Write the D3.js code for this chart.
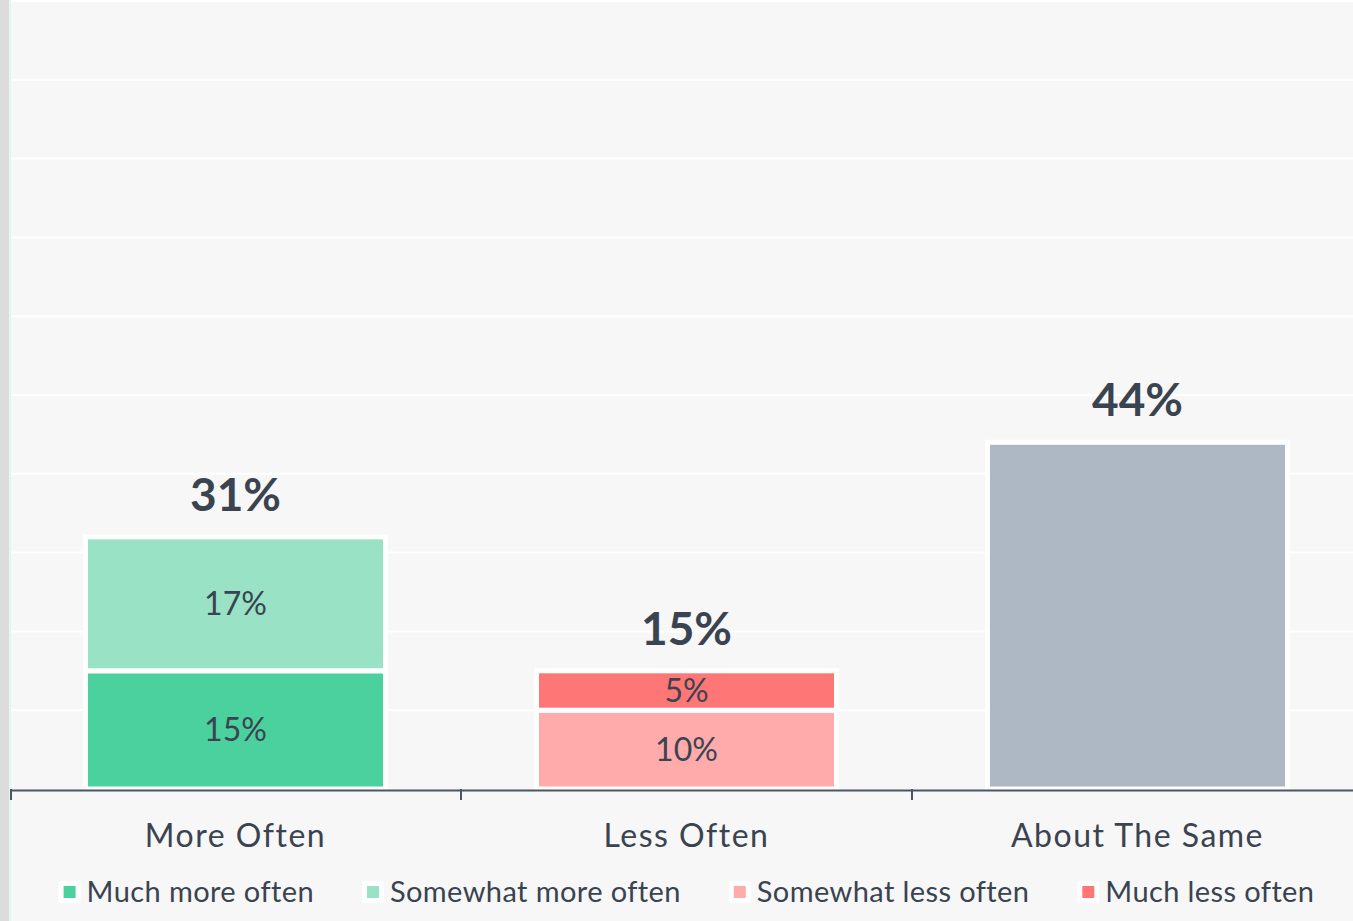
<!DOCTYPE html>
<html>
<head>
<meta charset="utf-8">
<script src="https://cdn.jsdelivr.net/npm/d3@7"></script>
<style>
  html, body { margin: 0; padding: 0; background: #f7f7f7; }
  svg { display: block; }
  text { font-family: Lato, "Open Sans", sans-serif; }
</style>
</head>
<body>
<svg id="chart" width="1353" height="921"></svg>
<script>
const categories = ["More Often", "Less Often", "About The Same"];
const legendNames = ["Much more often", "Somewhat more often", "Somewhat less often", "Much less often"];
const muchMore     = [15, 0, 0];
const somewhatMore = [17, 0, 0];
const somewhatLess = [0, 10, 0];
const muchLess     = [0, 5, 0];
const aboutSame    = [0, 0, 44];
const totals       = [31, 15, 44];
const yTicks = [0, 10, 20, 30, 40, 50, 60, 70, 80, 90, 100];

const colors = {
  "Much more often": "#4bd19e",
  "Somewhat more often": "#99e2c6",
  "Somewhat less often": "#ffabab",
  "Much less often": "#ff7676",
  "About the same": "#adb8c4"
};
const textColor = "#3a4350";

const svg = d3.select("#chart");
const W = 1353, H = 921;
const plotLeft = 10, plotRight = 1363, plotTop = 0, plotBottom = 789;

svg.append("rect").attr("width", W).attr("height", H).attr("fill", "#f7f7f7");
svg.append("rect").attr("x", 0).attr("y", 0).attr("width", 9).attr("height", H).attr("fill", "#dcdcdc");
svg.append("rect").attr("x", 9).attr("y", 0).attr("width", 2).attr("height", H).attr("fill", "#e4f7ee");

const x = d3.scaleBand().domain(categories).range([plotLeft, plotRight]).paddingInner(0).paddingOuter(0);
const y = d3.scaleLinear().domain([0, 100]).range([plotBottom, plotTop + 1]);

// gridlines
svg.append("g").selectAll("line").data(yTicks.slice(1)).join("line")
  .attr("x1", plotLeft + 1).attr("x2", W)
  .attr("y1", d => y(d)).attr("y2", d => y(d))
  .attr("stroke", "#ffffff").attr("stroke-width", 2);

// stacked data
const table = categories.map((c, i) => ({
  category: c,
  "Much more often": muchMore[i],
  "Somewhat more often": somewhatMore[i],
  "Somewhat less often": somewhatLess[i],
  "Much less often": muchLess[i],
  "About the same": aboutSame[i]
}));
const stackOrder = ["Much more often", "Somewhat more often", "Somewhat less often", "Much less often", "About the same"];
const stacked = d3.stack().keys(stackOrder)(table);

const barW = 300;
const bx = d => x(d) + (x.bandwidth() - barW) / 2;

const segs = [];
stacked.forEach(layer => {
  layer.forEach(d => {
    const v = d[1] - d[0];
    if (v > 0) segs.push({ key: layer.key, cat: d.data.category, y0: d[0], y1: d[1], v });
  });
});

svg.append("g").selectAll("rect").data(segs).join("rect")
  .attr("x", d => bx(d.cat))
  .attr("width", barW)
  .attr("y", d => y(d.y1))
  .attr("height", d => y(d.y0) - y(d.y1))
  .attr("fill", d => colors[d.key])
  .attr("stroke", "#ffffff")
  .attr("stroke-width", 5);

// segment labels (stacked categories only)
svg.append("g").selectAll("text").data(segs.filter(d => d.key !== "About the same")).join("text")
  .attr("x", d => x(d.cat) + x.bandwidth() / 2)
  .attr("y", d => (y(d.y0) + y(d.y1)) / 2)
  .attr("dy", "0.36em")
  .attr("text-anchor", "middle")
  .attr("font-size", 32)
  .attr("fill", textColor)
  .text(d => d.v + "%");

// totals
const stackTop = categories.map((c, i) => muchMore[i] + somewhatMore[i] + somewhatLess[i] + muchLess[i] + aboutSame[i]);
svg.append("g").selectAll("text").data(categories).join("text")
  .attr("x", d => x(d) + x.bandwidth() / 2)
  .attr("y", (d, i) => y(stackTop[i]) - 26)
  .attr("text-anchor", "middle")
  .attr("font-size", 46)
  .attr("font-weight", 700)
  .attr("fill", textColor)
  .text((d, i) => totals[i] + "%");

// x axis
const axis = svg.append("g").attr("transform", `translate(0,${plotBottom + 1})`)
  .call(d3.axisBottom(x).tickSize(0).tickFormat(""));
axis.select(".domain").attr("stroke", "#4d5563").attr("stroke-width", 2);
const tickPos = [plotLeft + 1, x(categories[1]), x(categories[2])];
svg.append("g").selectAll("line").data(tickPos).join("line")
  .attr("x1", d => d).attr("x2", d => d)
  .attr("y1", plotBottom).attr("y2", plotBottom + 11)
  .attr("stroke", "#4d5563").attr("stroke-width", 2);

svg.append("g").selectAll("text").data(categories).join("text")
  .attr("x", d => x(d) + x.bandwidth() / 2)
  .attr("y", 847)
  .attr("text-anchor", "middle")
  .attr("font-size", 32)
  .attr("letter-spacing", 1.5)
  .attr("fill", textColor)
  .text(d => d);

// legend
const lg = svg.append("g");
const items = lg.selectAll("g").data(legendNames).join("g");
items.append("rect").attr("class", "bg")
  .attr("width", 22).attr("height", 22).attr("rx", 2).attr("fill", "#ffffff");
items.append("rect")
  .attr("x", 5).attr("y", 5).attr("width", 12).attr("height", 12)
  .attr("fill", d => colors[d]);
items.append("text")
  .attr("x", 28).attr("y", 11).attr("dy", "0.36em")
  .attr("font-size", 29)
  .attr("letter-spacing", 0.4)
  .attr("fill", textColor)
  .text(d => d);
const widths = [];
items.each(function() { widths.push(this.getBBox().width); });
const gap = 48;
const totalW = d3.sum(widths) + gap * (widths.length - 1);
let cx = (plotLeft + plotRight) / 2 - totalW / 2;
items.attr("transform", (d, i) => {
  const t = `translate(${cx},${881})`;
  cx += widths[i] + gap;
  return t;
});
</script>
</body>
</html>
